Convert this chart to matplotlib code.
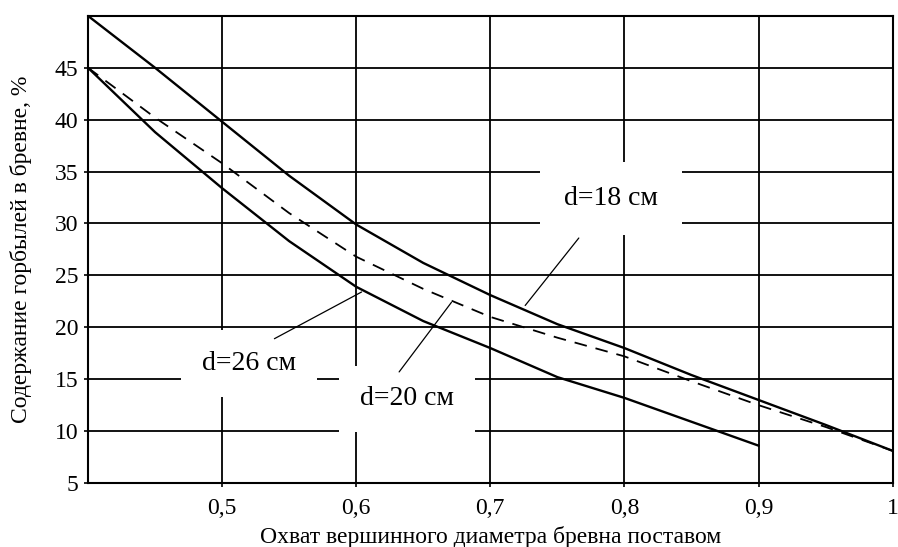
import numpy as np
import matplotlib.pyplot as plt

# Horbyl content vs. coverage of top diameter by the saw set
x_main = [0.40, 0.45, 0.50, 0.55, 0.60, 0.65, 0.70, 0.75, 0.80, 0.85, 0.90, 0.95, 1.00]
d18 = [50.0, 45.0, 39.8, 34.6, 29.9, 26.2, 23.1, 20.3, 18.0, 15.4, 13.0, 10.6, 8.1]
d20 = [45.0, 40.2, 35.8, 31.0, 26.8, 23.7, 21.0, 19.0, 17.2, 14.8, 12.5, 10.4, 8.1]
x_d26 = [0.40, 0.45, 0.50, 0.55, 0.60, 0.65, 0.70, 0.75, 0.80, 0.85, 0.90]
d26 = [45.0, 38.8, 33.4, 28.3, 23.9, 20.6, 18.0, 15.2, 13.2, 10.9, 8.6]

xticks = [0.5, 0.6, 0.7, 0.8, 0.9, 1.0]
xtick_labels = ["0,5", "0,6", "0,7", "0,8", "0,9", "1"]
yticks = [5, 10, 15, 20, 25, 30, 35, 40, 45]

plt.rcParams.update({
    "font.family": ["Liberation Serif", "DejaVu Serif"],
    "font.size": 17,
})

fig = plt.figure(figsize=(8.98, 5.47), dpi=100)
ax = fig.add_axes([0.098, 0.117, 0.896, 0.854])

ax.plot(x_main, d18, color="black", lw=1.7, zorder=4)
ax.plot(x_main, d20, color="black", lw=1.3, linestyle=(0, (7, 5)), zorder=4)
ax.plot(x_d26, d26, color="black", lw=1.7, zorder=4)

ax.set_xlim(0.4, 1.0)
ax.set_ylim(5, 50)
ax.set_xticks(xticks)
ax.set_xticklabels(xtick_labels)
ax.set_yticks(yticks)
ax.tick_params(direction="out", length=3, width=1.2, colors="black", labelsize=17)
ax.tick_params(axis="x", pad=8)
ax.tick_params(axis="y", pad=4)
ax.grid(True, color="black", lw=1.3)
ax.set_axisbelow(True)
for s in ax.spines.values():
    s.set_linewidth(1.5)

ax.set_xlabel("Охват вершинного диаметра бревна поставом", fontsize=17, labelpad=5)
ax.set_ylabel("Содержание горбылей в бревне, %", fontsize=17, labelpad=16)

# leader lines and labels (white boxes hide the grid behind the text)
leaders = [
    ("d=18 см", (0.726, 22.1), (0.766, 28.6), (0.790, 32.4), 0.85),
    ("d=20 см", (0.671, 22.4), (0.632, 15.7), (0.638, 13.1), 0.75),
    ("d=26 см", (0.604, 23.4), (0.539, 18.9), (0.520, 16.5), 0.75),
]
for label, xy_curve, xy_end, xy_text, pad in leaders:
    ax.annotate("", xy=xy_curve, xytext=xy_end,
                arrowprops=dict(arrowstyle="-", color="black", lw=0.9,
                                shrinkA=0, shrinkB=0), zorder=5)
    ax.text(*xy_text, label, ha="center", va="center", fontsize=20,
            bbox=dict(boxstyle="square,pad=%.2f" % pad, fc="white", ec="none"),
            zorder=3)

fig.savefig("out.png", dpi=100)
